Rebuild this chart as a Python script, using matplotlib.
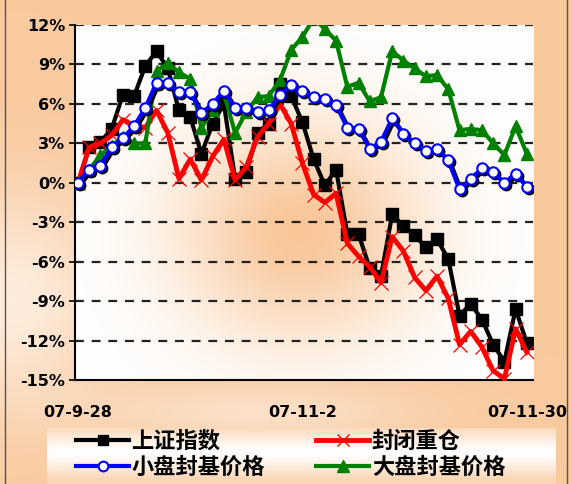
import numpy as np
import matplotlib
matplotlib.use('Agg')
import matplotlib.pyplot as plt
import matplotlib.transforms as mtransforms
from matplotlib.lines import Line2D

plt.rcParams['font.family'] = ['Noto Sans CJK SC', 'DejaVu Sans']

# ---------------- data ----------------
dates = ['07-9-28',
         '07-10-8', '07-10-9', '07-10-10', '07-10-11', '07-10-12',
         '07-10-15', '07-10-16', '07-10-17', '07-10-18', '07-10-19',
         '07-10-22', '07-10-23', '07-10-24', '07-10-25', '07-10-26',
         '07-10-29', '07-10-30', '07-10-31', '07-11-1', '07-11-2',
         '07-11-5', '07-11-6', '07-11-7', '07-11-8', '07-11-9',
         '07-11-12', '07-11-13', '07-11-14', '07-11-15', '07-11-16',
         '07-11-19', '07-11-20', '07-11-21', '07-11-22', '07-11-23',
         '07-11-26', '07-11-27', '07-11-28', '07-11-29', '07-11-30']
tick_labels = ['07-9-28', '07-11-2', '07-11-30']

shanghai = [0, 2.7, 3.1, 4.1, 6.7, 6.6, 8.9, 10.0, 8.7, 5.5, 5.0,
            2.2, 4.5, 6.0, 0.3, 0.8, 3.8, 4.5, 7.5, 6.6, 4.6,
            1.8, -0.2, 1.0, -3.9, -3.9, -6.5, -7.1, -2.4, -3.3, -4.0,
            -4.9, -4.3, -5.8, -10.1, -9.2, -10.4, -12.3, -13.6, -9.6, -12.2]
closed_heavy = [0, 2.7, 3.0, 3.6, 4.8, 4.3, 4.2, 5.5, 3.8, 0.3, 1.8,
                0.2, 2.0, 3.3, 0.2, 1.2, 3.5, 4.5, 6.0, 4.5, 1.5,
                -0.9, -1.5, -0.8, -4.6, -5.6, -6.4, -7.6, -4.1, -5.2, -7.2,
                -8.2, -7.1, -8.8, -12.3, -11.3, -12.5, -14.3, -14.9, -11.1, -12.9]
small_cap = [0, 1.0, 1.3, 2.7, 3.4, 4.3, 5.7, 7.6, 7.6, 6.9, 6.9,
             5.3, 6.0, 7.0, 5.7, 5.7, 5.4, 5.5, 6.7, 7.4, 7.0,
             6.5, 6.4, 5.9, 4.2, 4.1, 2.6, 3.1, 4.9, 3.7, 3.0,
             2.4, 2.6, 1.7, -0.5, 0.3, 1.1, 0.8, 0.0, 0.7, -0.3]
large_cap = [0, 1.0, 2.1, 2.8, 3.5, 3.0, 3.0, 8.5, 9.1, 8.4, 7.9,
             4.2, 5.5, 6.8, 3.8, 5.4, 6.5, 6.6, 7.8, 10.1, 11.1,
             12.5, 11.7, 10.8, 7.3, 7.6, 6.2, 6.5, 10.0, 9.3, 8.7,
             8.1, 8.2, 7.1, 4.0, 4.1, 4.0, 3.0, 2.1, 4.3, 2.2]
series_names = ['上证指数', '封闭重仓', '小盘封基价格', '大盘封基价格']
y_ticks = [12, 9, 6, 3, 0, -3, -6, -9, -12, -15]

# ---------------- figure ----------------
W, H = 572, 484
fig = plt.figure(figsize=(W / 100, H / 100), dpi=100)

yy, xx = np.mgrid[0:H, 0:W].astype(float)
orange = np.array([248, 192, 142]) / 255.0
white = np.array([1.0, 1.0, 1.0])
xn, yn = xx / W, yy / H
t = 0.85 - 0.55 * np.exp(-(((xn - 0.02) ** 2) / 0.03 + ((yn - 0.62) ** 2) / 0.05))
t -= 0.35 * np.exp(-(((xn - 0.45) ** 2) / 0.08 + ((yn - 0.85) ** 2) / 0.004))
L, R, T, B = 75, 533, 25, 380
inside = (xx >= L) & (xx <= R) & (yy >= T) & (yy <= B)
ax_x = (xx - L) / (R - L)
ax_y = (yy - T) / (B - T)
tin = 0.9 * np.exp(-(((ax_x - 0.49) ** 2) / (2 * 0.19 ** 2) + ((ax_y - 0.58) ** 2) / (2 * 0.22 ** 2)))
t = np.where(inside, tin, t)
lin = (xx >= 47) & (xx <= 555) & (yy >= 428)
tl = 0.65 * np.clip(np.abs(yy - 452) / 26.0, 0, 1) ** 1.3
t = np.where(lin, tl, t)
t = np.clip(t, 0, 1)[..., None]
img = white * (1 - t) + orange * t

bg = fig.add_axes([0, 0, 1, 1], zorder=-10)
bg.imshow(img, extent=[0, 1, 0, 1], aspect='auto', origin='upper', interpolation='bilinear')
bg.set_xlim(0, 1)
bg.set_ylim(0, 1)
bg.axis('off')
bg.plot([5 / W, 5 / W], [0, 1], color='#555555', lw=1)
bg.plot([567 / W, 567 / W], [0, 1], color='#555555', lw=1)

ax = fig.add_axes([L / W, 1 - B / H, (R - L) / W, (B - T) / H])
ax.patch.set_alpha(0)

x = np.arange(len(dates))
ax.set_xlim(-0.27, 40.55)
ax.set_ylim(-15, 12)

for v in y_ticks[:-1]:
    ax.axhline(v, color='#222222', lw=1.6, dashes=(4, 3.5), zorder=1)

ax.plot(x, shanghai, color='black', lw=3, marker='s', ms=8, zorder=3)
ax.plot(x, closed_heavy, color='#FF0000', lw=3.5, marker='x', ms=10, mew=0.9, zorder=4)
ax.plot(x, large_cap, color='#008000', lw=3, marker='^', ms=8.5, zorder=5)
shadow = ax.transData + mtransforms.ScaledTranslation(0.02, -0.02, fig.dpi_scale_trans)
ax.plot(x, small_cap, color='black', lw=3, marker='o', ms=7.5, mfc='black', mec='black',
        transform=shadow, zorder=6)
ax.plot(x, small_cap, color='#0000FF', lw=3, marker='o', ms=7.5, mfc='white', mec='#0000FF',
        mew=1.5, zorder=7)

for s in ['top', 'right']:
    ax.spines[s].set_visible(False)
for s in ['left', 'bottom']:
    ax.spines[s].set_linewidth(1.5)
    ax.spines[s].set_color('black')

ax.set_yticks(y_ticks)
ax.set_yticklabels([f'{v}%' for v in y_ticks], fontsize=11.5, fontweight='bold',
                   family='DejaVu Sans')
ax.set_xticks([dates.index(d) for d in tick_labels])
ax.set_xticklabels(tick_labels, fontsize=11.5, fontweight='bold', family='DejaVu Sans')
ax.tick_params(axis='y', length=4, width=1.2, pad=3)
ax.tick_params(axis='x', length=0, pad=18)

handles = [
    Line2D([], [], color='black', lw=3, marker='s', ms=7),
    Line2D([], [], color='#0000FF', lw=3, marker='o', ms=7, mfc='white', mec='#0000FF', mew=1.5),
    Line2D([], [], color='#FF0000', lw=3.5, marker='x', ms=8, mew=1.0),
    Line2D([], [], color='#008000', lw=3, marker='^', ms=8),
]
labels = [series_names[0], series_names[2], series_names[1], series_names[3]]
fig.legend(handles, labels, loc='upper left', bbox_to_anchor=(76 / W, 1 - 430 / H),
           ncol=2, frameon=False, handlelength=2.4, handletextpad=0.1,
           columnspacing=2.3, labelspacing=0.12, borderpad=0, borderaxespad=0,
           prop={'family': ['Noto Sans CJK SC', 'DejaVu Sans'], 'weight': 'bold', 'size': 16})

fig.savefig('out.png', dpi=100)
